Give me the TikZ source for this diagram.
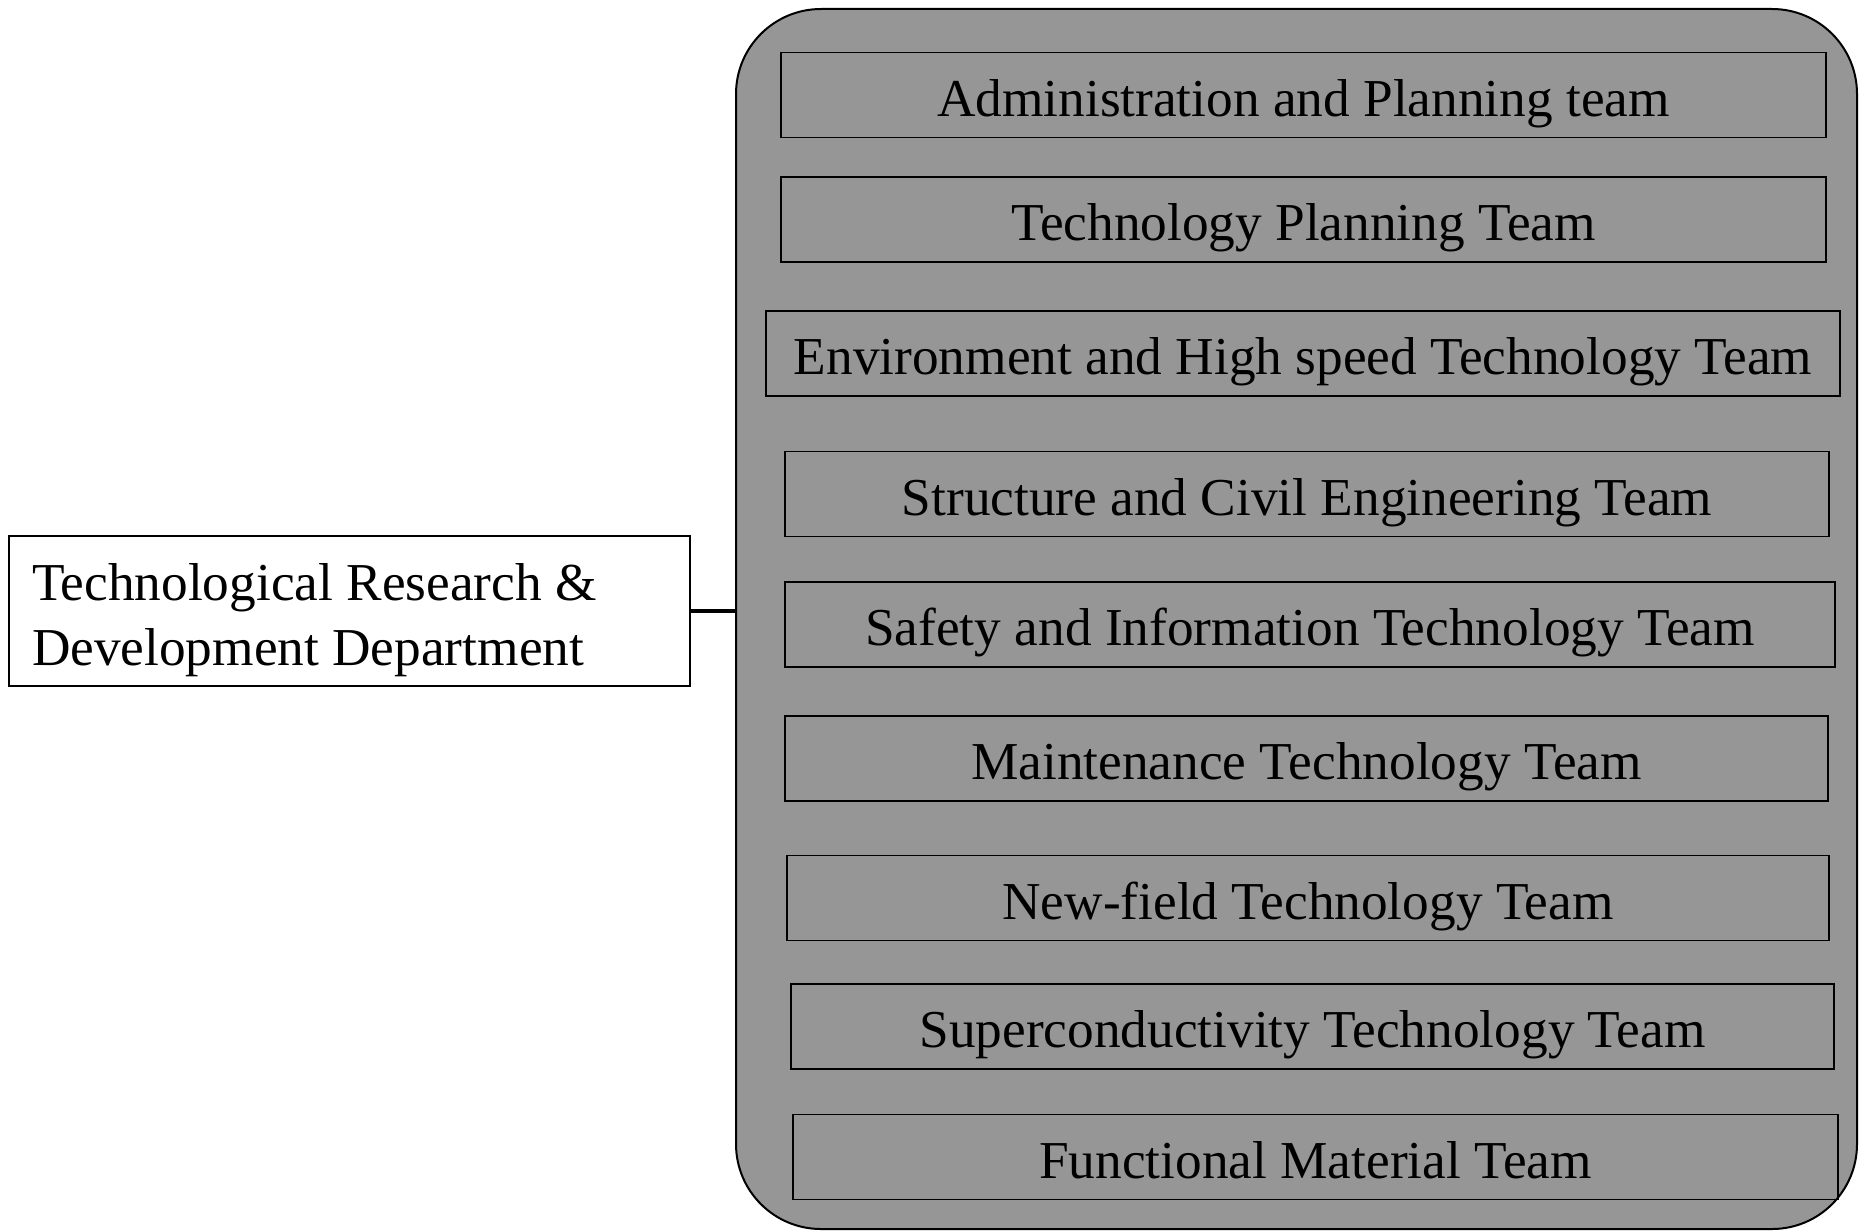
\documentclass[tikz,border=0pt]{standalone}
\usepackage{fontspec}
\setmainfont{Liberation Serif}
\usepackage{xcolor}
\usepackage{tikz}
\usetikzlibrary{calc}
\usetikzlibrary{positioning}

\definecolor{groupgray}{RGB}{150,150,150}

\begin{document}
\begin{tikzpicture}[x=1pt, y=-1pt]

        % one unit is one pixel of the reference, y runs downwards
        \tikzset{
            team/.style={draw, line width=1.5pt, inner sep=0pt,
                minimum height=85pt, text height=50pt, text depth=8pt,
                font=\fontsize{53.3}{64.3}\selectfont},
            dept/.style={draw, line width=1.2pt, fill=white,
                inner xsep=23pt, inner ysep=0pt,
                minimum height=150pt, text width=635pt,
                align=flush left,
                font=\fontsize{53.3}{64.3}\selectfont},
            group/.style={draw, line width=2pt, fill=groupgray,
                rounded corners=85pt, inner sep=0pt}
        }

        \useasboundingbox (0, 0) rectangle (1859, 1231);

        % the department and the frame round its teams
        \node (D) [dept] at (349.5, 611)
            {\rule{0pt}{55.6pt}Technological Research \&\\
            Development Department};
        \node (G) [group, minimum width=1121pt, minimum height=1220pt]
            at (1296.5, 619) {};

        % the teams, top to bottom
        \node (T1) [team, minimum width=1045pt] at (1303.5, 95)
            {Administration and Planning team};
        \node (T2) [team, minimum width=1045pt] at (1303.5, 219.5)
            {Technology Planning Team};
        \node (T3) [team, minimum width=1074pt] at (1303, 353.5)
            {Environment and High speed Technology Team};
        \node (T4) [team, minimum width=1044pt] at (1307, 494)
            {Structure and Civil Engineering Team};
        \node (T5) [team, minimum width=1050pt] at (1310, 624.5)
            {Safety and Information Technology Team};
        \node (T6) [team, minimum width=1043pt] at (1306.5, 758.5)
            {Maintenance Technology Team};
        \node (T7) [team, minimum width=1042pt] at (1308, 898)
            {New-field Technology Team};
        \node (T8) [team, minimum width=1043pt] at (1312.5, 1026.5)
            {Superconductivity Technology Team};
        \node (T9) [team, minimum width=1045pt] at (1315.5, 1157)
            {Functional Material Team};

        \begin{scope}[line width=4.5pt]
            \draw (D.east) -- (D.east -| G.west);
        \end{scope}

\end{tikzpicture}
\end{document}
